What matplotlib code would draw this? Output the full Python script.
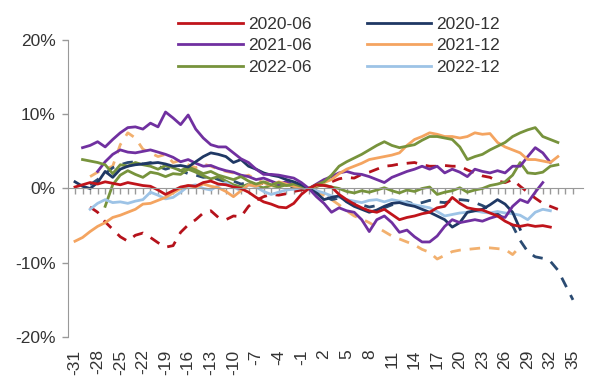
import matplotlib.pyplot as plt
import numpy as np

plt.rcParams['font.family'] = ['Liberation Sans', 'DejaVu Sans']

nan = np.nan

# dias relativos al evento
days = list(range(-31, 36))
tick_days = list(range(-31, 36, 3))

# series solidas (con leyenda)
r_2020_06 = [0.2, 0.5, 0.8, 0.6, 0.9, 0.7, 0.5, 0.8, 0.6, 0.4, 0.3, -0.2, -0.8, -0.3, 0.2, 0.4,
             0.3, 0.8, 1.0, 0.6, 0.5, 0.2, 0.0, -0.5, -1.2, -1.8, -2.1, -2.5, -2.6, -2.0, -0.8,
             0.0,
             0.5, 0.4, 0.2, -0.8, -1.5, -2.1, -2.6, -3.0, -3.2, -2.8, -3.5, -4.2, -3.9, -3.7, -3.4,
             -3.2, -2.6, -2.4, -1.2, -2.0, -2.6, -2.8, -2.9, -3.3, -3.7, -4.4, -4.9, -5.1, -4.9,
             -5.1, -5.0, -5.2, nan, nan, nan]
r_2020_12 = [0.9, 0.3, 0.0, 0.8, 2.3, 1.5, 2.6, 3.0, 3.2, 3.3, 3.4, 3.5, 3.3, 3.0, 3.1, 2.9,
             3.6, 4.3, 4.8, 4.6, 4.3, 3.5, 3.9, 3.0, 2.6, 2.1, 1.8, 1.6, 1.2, 0.9, 0.5,
             0.0,
             -0.6, -1.5, -1.2, -1.0, -1.8, -2.4, -2.8, -3.2, -2.9, -2.4, -2.0, -1.9, -2.2, -2.4,
             -2.8, -3.2, -3.7, -4.2, -5.2, -4.6, -3.2, -3.0, -2.8, -2.2, -1.5, -2.1, -3.2, -5.5,
             nan, nan, nan, nan, nan, nan, nan]
r_2021_06 = [nan, 5.5, 5.8, 6.3, 5.6, 6.6, 7.5, 8.2, 8.3, 8.0, 8.8, 8.3, 10.3, 9.5, 8.6, 9.9,
             8.0, 6.8, 5.9, 5.6, 5.6, 4.8, 4.0, 3.5, 2.6, 1.9, 1.9, 1.8, 1.6, 1.4, 0.8,
             0.0,
             -1.1, -2.0, -3.2, -2.6, -3.0, -3.2, -4.2, -5.8, -4.2, -3.7, -4.6, -5.9, -5.6, -6.5,
             -7.2, -7.2, -6.4, -5.1, -4.2, -4.6, -4.4, -4.2, -4.4, -4.0, -3.7, -3.9, -2.4, -1.5,
             -1.9, -0.5, 0.8, nan, nan, nan, nan]
r_2021_12 = [-7.1, -6.6, -5.8, -5.1, -4.6, -3.9, -3.6, -3.2, -2.8, -2.1, -2.0, -1.6, -1.2, -0.6,
             0.0, 0.4, 0.2, 0.6, 0.3, 0.1, -0.4, -1.1, -0.3, 0.5, 0.3, 0.8, 0.4, 0.9, 0.6, 0.3, 0.2,
             0.0,
             0.4, 0.8, 1.2, 2.0, 2.6, 3.0, 3.4, 3.9, 4.1, 4.3, 4.5, 4.8, 5.8, 6.6, 7.0, 7.5, 7.3,
             7.0, 7.0, 6.8, 7.0, 7.5, 7.3, 7.4, 6.2, 5.6, 5.2, 4.8, 3.9, 3.9, 3.7, 3.5, 4.3,
             nan, nan]
r_2022_06 = [nan, 3.9, 3.7, 3.5, 3.2, 2.0, 3.2, 3.0, 3.5, 3.2, 3.0, 2.6, 3.1, 2.8, 2.4, 2.9,
             2.5, 2.0, 2.3, 1.8, 1.5, 1.2, 1.6, 1.0, 0.6, 0.9, 0.5, 0.8, 0.4, 0.6, 0.3,
             0.0,
             0.5, 0.9, 1.8, 3.0, 3.6, 4.1, 4.6, 5.2, 5.8, 6.3, 5.8, 5.5, 5.7, 5.9, 6.5, 7.0, 7.0,
             6.8, 6.6, 5.6, 3.9, 4.3, 4.6, 5.2, 5.7, 6.2, 7.0, 7.5, 7.9, 8.2, 7.0, 6.6, 6.2,
             nan, nan]
r_2022_12 = [nan, nan, -2.8, -2.0, -1.5, -1.9, -1.8, -2.0, -1.7, -1.5, -0.5, -0.9, -1.4, -1.2,
             -0.5, 0.3, 0.5, 0.0, -0.2, 0.4, 0.8, 0.2, -0.3, 0.5, 0.2, -0.4, -0.8, -0.5, -0.2,
             -0.1, 0.1,
             0.0,
             -0.3, -0.6, -1.0, -1.2, -1.5, -1.7, -1.9, -1.6, -1.5, -1.8, -1.5, -1.7, -1.9, -2.2,
             -2.4, -2.6, -3.1, -3.7, -3.5, -3.3, -3.2, -3.0, -3.2, -3.3, -3.1, -3.3, -3.4, -3.6,
             -4.2, -3.2, -2.8, -3.0, nan, nan, nan]

# series sin leyenda (fila cortada en la imagen)
r_purple_b = [nan, nan, nan, 2.3, 3.6, 4.6, 5.2, 4.9, 4.8, 5.0, 5.2, 4.9, 4.6, 4.2, 3.6, 3.9,
              3.4, 3.0, 3.1, 2.7, 2.4, 2.2, 1.8, 1.6, 1.2, 1.4, 1.0, 0.6, 0.9, 0.5, 0.2,
              0.0,
              0.6, 1.2, 1.6, 2.1, 2.3, 2.0, 1.9, 1.6, 1.2, 0.8, 1.5, 1.9, 2.3, 2.6, 3.0, 2.6, 3.0,
              2.1, 2.6, 2.2, 1.6, 2.6, 2.3, 2.1, 2.4, 2.1, 3.0, 3.0, 4.3, 5.5, 4.8, 3.5,
              nan, nan, nan]
r_green_b = [nan, nan, nan, nan, -2.4, 0.5, 1.8, 2.4, 1.9, 1.5, 2.2, 2.0, 1.6, 2.0, 1.9, 2.6,
             2.2, 1.7, 1.3, 1.6, 1.0, 0.5, 0.2, 0.6, 0.3, 0.1, 0.4, 0.2, 0.5, 0.3, 0.1,
             0.0,
             0.3, 0.5, 0.2, 0.0, -0.4, -0.6, -0.3, -0.5, -0.2, 0.1, -0.3, -0.6, -0.2, -0.4, 0.0,
             0.2, -0.8, -0.5, -0.3, 0.1, -0.5, -0.2, 0.0, 0.4, 0.6, 0.9, 1.8, 3.5, 2.1, 2.0,
             2.2, 3.0, 3.2, nan, nan]
r_red_dash = [nan, nan, -2.5, -3.2, -4.5, -5.5, -6.5, -7.1, -6.3, -6.0, -6.6, -7.3, -7.9, -7.7,
              -5.9, -4.9, -4.2, -3.3, -3.0, -3.9, -4.2, -3.7, -3.8, -2.4, -1.6, -1.1, -0.8, -0.9,
              -0.7, -0.4, -0.2,
              0.0,
              0.3, 0.6, 0.9, 1.3, 1.5, 1.4, 1.9, 2.2, 2.6, 3.0, 3.1, 3.3, 3.4, 3.5, 3.2, 3.0, 3.0,
              3.1, 3.0, 3.0, 2.5, 2.1, 1.7, 1.5, 1.0, 0.8, 1.2, 0.3, -0.5, -1.3, -2.0, -2.4, -2.8,
              nan, nan]
r_navy_dash = [nan, nan, 0.5, 1.2, 2.0, 2.8, 3.2, 3.5, 3.6, 3.3, 3.5, 3.0, 2.6, 2.9, 2.4, 2.0,
               1.8, 1.5, 1.6, 1.2, 0.9, 1.0, 0.6, 0.8, 0.5, 0.7, 0.4, 0.5, 0.3, 0.2, 0.1,
               0.0,
               -0.5, -1.0, -1.5, -1.3, -1.7, -2.0, -2.2, -2.5, -2.3, -2.6, -2.2, -2.0, -1.8, -2.1,
               -1.9, -1.6, -1.8, -1.9, -1.7, -1.5, -1.6, -1.9, -2.3, -2.8, -3.4, -4.2, -5.0, -7.0,
               -8.5, -9.2, -9.4, -9.8, -11.0, -13.0, -15.0]
r_orange_dash = [nan, nan, 1.6, 2.2, 2.6, 3.0, 5.9, 7.5, 6.8, 5.3, 4.8, 4.3, 4.6, 3.5, 3.8, 3.2,
                 2.8, 3.3, 3.0, 2.6, 2.3, 2.1, 1.5, 1.8, 1.2, 0.8, 1.1, 0.6, 0.4, 0.5, 0.2,
                 0.0,
                 -0.4, -0.9, -1.5, -2.2, -3.0, -3.7, -4.1, -4.6, -5.2, -5.8, -6.4, -6.8, -7.2, -7.6,
                 -8.2, -8.6, -9.5, -9.0, -8.5, -8.3, -8.2, -8.1, -8.0, -8.0, -8.1, -8.2, -8.9, -7.8,
                 nan, nan, nan, nan, nan, nan, nan]

RED = '#C0141B'
NAVY = '#1F3864'
PURPLE = '#7030A0'
ORANGE = '#F4A460'
GREEN = '#77933C'
LIGHTBLUE = '#9DC3E6'


def draw_chart():
    fig = plt.figure(figsize=(5.91, 3.81), dpi=100)
    ax = fig.add_axes([0.1154, 0.1155, 0.8707, 0.7795])

    lw = 2.0
    dash = (3.8, 3.2)

    # lineas discontinuas primero
    ax.plot(days, r_orange_dash, color='#F2B06E', lw=lw, dashes=dash)
    ax.plot(days, r_red_dash, color='#B5121B', lw=lw, dashes=dash)
    ax.plot(days, r_navy_dash, color='#2B4B72', lw=lw, dashes=dash)

    # lineas solidas sin leyenda
    ax.plot(days, r_green_b, color=GREEN, lw=lw)
    ax.plot(days, r_purple_b, color=PURPLE, lw=lw)

    # lineas con leyenda
    h = {}
    h['2022-12'], = ax.plot(days, r_2022_12, color=LIGHTBLUE, lw=lw)
    h['2021-12'], = ax.plot(days, r_2021_12, color=ORANGE, lw=lw)
    h['2022-06'], = ax.plot(days, r_2022_06, color=GREEN, lw=lw)
    h['2020-12'], = ax.plot(days, r_2020_12, color=NAVY, lw=lw)
    h['2021-06'], = ax.plot(days, r_2021_06, color=PURPLE, lw=lw)
    h['2020-06'], = ax.plot(days, r_2020_06, color=RED, lw=lw)

    ax.set_xlim(-31.9, 36.3)
    ax.set_ylim(-20, 20)

    # eje y
    ax.set_yticks([-20, -10, 0, 10, 20])
    ax.set_yticklabels(['-20%', '-10%', '0%', '10%', '20%'])
    ax.tick_params(axis='y', length=4, width=1, color='#999999', pad=5,
                   labelsize=12.5, labelcolor='#333333')
    ax.spines['left'].set_color('#999999')
    ax.spines['top'].set_visible(False)
    ax.spines['right'].set_visible(False)

    # eje x en cero con marcas en cada dia
    ax.spines['bottom'].set_position(('data', 0))
    ax.spines['bottom'].set_color('#999999')
    ax.set_xticks(days)
    ax.tick_params(axis='x', length=4, width=1, color='#999999', labelbottom=False)

    # etiquetas del eje x abajo del grafico
    sec = ax.secondary_xaxis(0.0)
    sec.set_xticks(tick_days)
    sec.set_xticklabels([str(d) for d in tick_days], rotation=90)
    sec.tick_params(length=0, pad=9, labelsize=12.5, labelcolor='#333333')
    sec.spines['bottom'].set_visible(False)

    order = ['2020-06', '2021-06', '2022-06', '2020-12', '2021-12', '2022-12']
    fig.legend([h[k] for k in order], order, ncol=2, frameon=False, fontsize=12.5,
               loc='upper left', bbox_to_anchor=(0.287, 0.978), borderpad=0,
               handlelength=3.7, handletextpad=0.3, columnspacing=3.2, labelspacing=0.35,
               labelcolor='#333333')

    fig.savefig('out.png', dpi=100)


draw_chart()
